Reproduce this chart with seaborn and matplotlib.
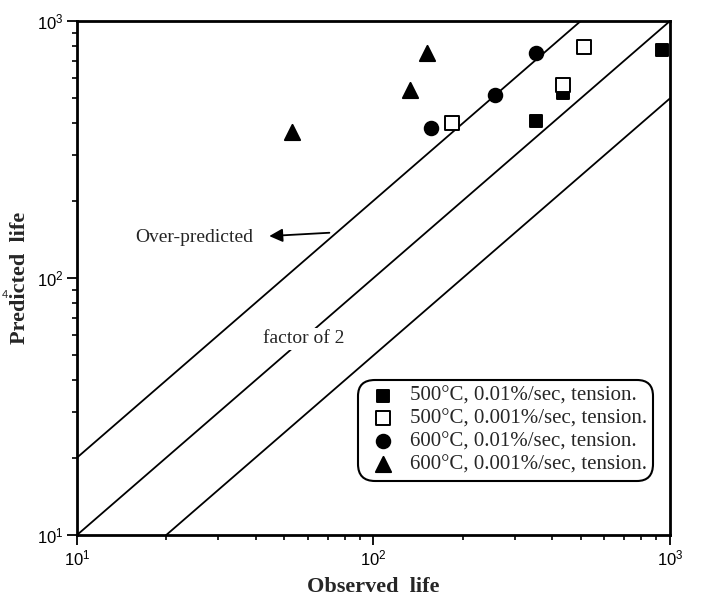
"""Predicted vs observed fatigue life, log-log with factor-of-2 band."""

import matplotlib
matplotlib.use("Agg")
import matplotlib.pyplot as plt
import matplotlib.ticker as mticker
import numpy as np
import pandas as pd
import seaborn as sns

# data (observed life, predicted life)
sq_filled_obs = [354, 437, 940]
sq_filled_pred = [408, 525, 771]
sq_open_obs = [184, 437, 514]
sq_open_pred = [401, 564, 793]
circle_obs = [156, 256, 354]
circle_pred = [383, 515, 751]
tri_obs = [53, 133, 152]
tri_pred = [370, 539, 751]

labels = [
    "500°C, 0.01%/sec, tension.",
    "500°C, 0.001%/sec, tension.",
    "600°C, 0.01%/sec, tension.",
    "600°C, 0.001%/sec, tension.",
]
factors = [2, 1, 0.5]
axis_limits = [10, 1000]

sns.set_style("ticks")
plt.rcParams["font.family"] = ["Liberation Serif", "DejaVu Serif"]
plt.rcParams["mathtext.default"] = "regular"

series = [
    (sq_filled_obs, sq_filled_pred, "s", "black", 80),
    (sq_open_obs, sq_open_pred, "s", "white", 95),
    (circle_obs, circle_pred, "o", "black", 95),
    (tri_obs, tri_pred, "^", "black", 120),
]

fig = plt.figure(figsize=(7.02, 6.02), dpi=100)
ax = fig.add_axes([0.1097, 0.1113, 0.8447, 0.8538])

# diagonal lines: y = f * x
line_x = np.array(axis_limits, dtype=float)
for f in factors:
    ax.plot(line_x, line_x * f, color="black", lw=1.3, zorder=1)

for (obs, pred, marker, face, size), label in zip(series, labels):
    df = pd.DataFrame({"observed": obs, "predicted": pred})
    sns.scatterplot(
        data=df, x="observed", y="predicted", ax=ax, marker=marker,
        color=face, edgecolor="black", linewidth=1.4, s=size,
        label=label, zorder=3, clip_on=False,
    )

ax.set_xscale("log")
ax.set_yscale("log")
ax.set_xlim(axis_limits)
ax.set_ylim(axis_limits)

fmt = mticker.FuncFormatter(lambda v, p: r"$10^{%d}$" % round(np.log10(v)))
ax.xaxis.set_major_formatter(fmt)
ax.yaxis.set_major_formatter(fmt)
ax.xaxis.set_minor_formatter(mticker.NullFormatter())
ax.yaxis.set_minor_formatter(mticker.NullFormatter())
for lab in ax.get_xticklabels() + ax.get_yticklabels():
    lab.set_family("Liberation Sans")
ax.tick_params(which="major", direction="out", length=7, width=1.3,
               labelsize=12, pad=3, colors="black")
ax.tick_params(which="minor", direction="out", length=3.5, width=1.2,
               colors="black")
ax.tick_params(top=False, right=False, which="both")
for side in ["left", "right", "top", "bottom"]:
    ax.spines[side].set_linewidth(2)
    ax.spines[side].set_color("black")

ax.set_xlabel("Observed  life", fontsize=16, fontweight="bold")
ax.set_ylabel("Predicted  life", fontsize=16, fontweight="bold")
ax.xaxis.set_label_coords(0.5, -0.082)
ax.yaxis.set_label_coords(-0.079, 0.5)

ax.annotate(
    "", xy=(44.5, 145.6), xytext=(71, 150),
    arrowprops=dict(arrowstyle="-|>", color="black", lw=1.3,
                    mutation_scale=20, shrinkA=0, shrinkB=0),
)
ax.text(15.7, 144, "Over-predicted", fontsize=14, va="center", ha="left")
ax.text(58, 58, "factor of 2", fontsize=14, va="center", ha="center",
        bbox=dict(facecolor="white", edgecolor="none", pad=2), zorder=2)

fig.text(0.002, 0.505, "4", fontsize=8, family="Liberation Sans")

leg = ax.legend(
    loc="upper left", bbox_to_anchor=(0.474, 0.302), borderaxespad=0,
    fontsize=15, frameon=True, fancybox=True, handlelength=1.8,
    handletextpad=0.35, labelspacing=0.15, borderpad=0.32, framealpha=1,
)
leg.get_frame().set_edgecolor("black")
leg.get_frame().set_linewidth(1.5)
leg.get_frame().set_boxstyle("round", pad=0, rounding_size=0.8)

fig.savefig("out.png", dpi=100, facecolor="white")
